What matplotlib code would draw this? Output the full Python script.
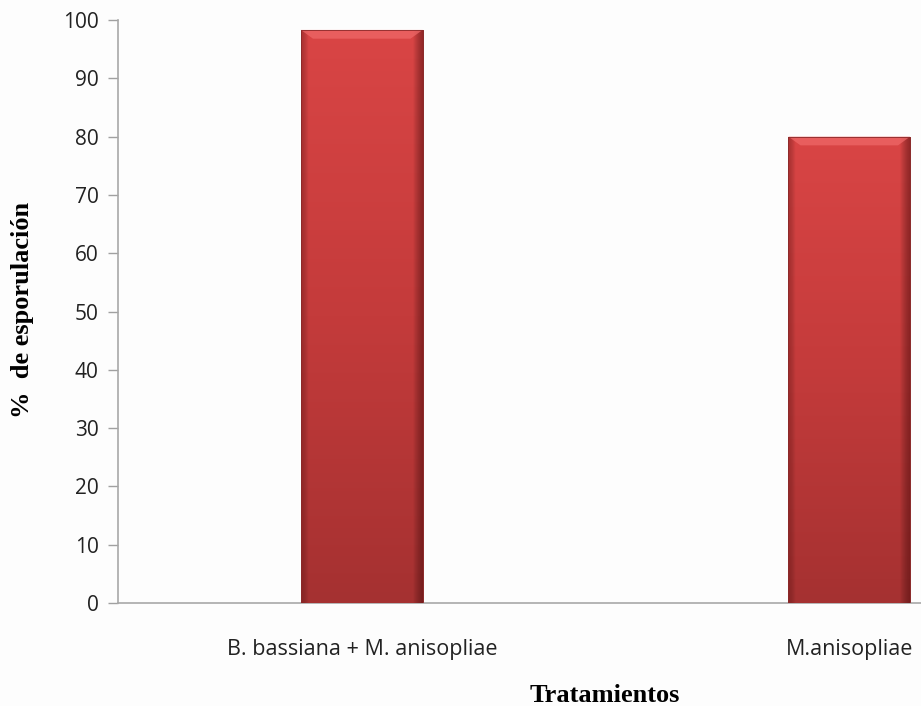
import numpy as np
import matplotlib
matplotlib.use("Agg")
import matplotlib.pyplot as plt
from matplotlib.colors import LinearSegmentedColormap

# Data
categories = ["B. bassiana + M. anisopliae", "M.anisopliae"]
esporulacion = [98.3, 80.0]
yticks = [0, 10, 20, 30, 40, 50, 60, 70, 80, 90, 100]

fig = plt.figure(figsize=(9.21, 7.06), dpi=100)
fig.patch.set_facecolor("#fdfdfd")
ax = fig.add_axes([118 / 921, 1 - 603 / 706, 803 / 921, 583 / 706])
ax.set_facecolor("#fdfdfd")

x = np.arange(len(categories))
bar_w = 0.25
bars = ax.bar(x, esporulacion, width=bar_w, color="#c83c3c", edgecolor="#8a2a2a",
              linewidth=0.6, zorder=2)

# vertical gradient + soft bevel inside each bar
grad_cmap = LinearSegmentedColormap.from_list("barred", ["#a53131", "#c43b3b", "#d94545"])
horiz = LinearSegmentedColormap.from_list(
    "shade", [(0, (0.35, 0.05, 0.05, 0.35)), (0.06, (0, 0, 0, 0)),
              (0.92, (0, 0, 0, 0)), (1.0, (0.25, 0.02, 0.02, 0.45))])
for b in bars:
    x0, y0 = b.get_x(), b.get_y()
    w, h = b.get_width(), b.get_height()
    g = np.linspace(0, 1, 256).reshape(-1, 1)
    im = ax.imshow(g, cmap=grad_cmap, aspect="auto", origin="lower",
                   extent=[x0, x0 + w, y0, y0 + h], zorder=3)
    im.set_clip_path(b)
    s = np.linspace(0, 1, 256).reshape(1, -1)
    im2 = ax.imshow(s, cmap=horiz, aspect="auto", origin="lower",
                    extent=[x0, x0 + w, y0, y0 + h], zorder=4)
    im2.set_clip_path(b)
    # light top bevel (trapezoid)
    inset = w * 0.1
    ax.fill([x0, x0 + w, x0 + w - inset, x0 + inset],
            [y0 + h, y0 + h, y0 + h - 1.5, y0 + h - 1.5],
            color="#f06a6a", alpha=0.7, linewidth=0, zorder=5)
    ax.plot([x0, x0 + w, x0 + w, x0, x0], [y0, y0, y0 + h, y0 + h, y0],
            color="#8a2a2a", linewidth=0.6, zorder=6)

ax.set_xlim(-0.5, (921 - 118) / 487.5 - 0.5)
ax.set_ylim(0, 100)
ax.set_yticks(yticks)
ax.set_yticklabels([str(v) for v in yticks], fontsize=15, family="Open Sans", color="#222222")
ax.set_xticks(x)
ax.set_xticklabels(categories, fontsize=15.5, family="Open Sans", color="#222222")
ax.tick_params(axis="x", length=0, pad=26)
ax.tick_params(axis="y", length=7, color="#a0a0a0", width=1, pad=7)

for side in ("top", "right"):
    ax.spines[side].set_visible(False)
for side in ("left", "bottom"):
    ax.spines[side].set_color("#a8a8a8")
    ax.spines[side].set_linewidth(1.2)

fig.text(23 / 921, 1 - 310 / 706, "%  de esporulación", rotation=90, ha="center",
         va="center", fontsize=19, fontweight="bold", family="Liberation Serif")
fig.text(605 / 921, 1 - 696 / 706, "Tratamientos", ha="center", va="center",
         fontsize=19, fontweight="bold", family="Liberation Serif")

fig.savefig("out.png", dpi=100, facecolor=fig.get_facecolor())
